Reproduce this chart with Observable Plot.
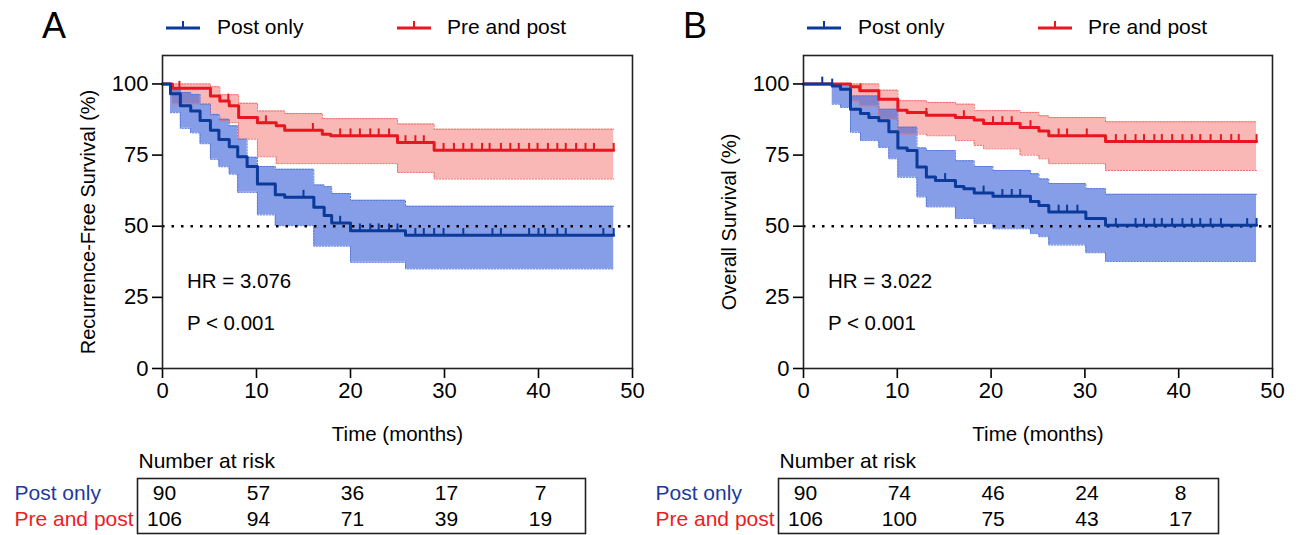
<!DOCTYPE html>
<html>
<head>
<meta charset="utf-8">
<script src="https://cdn.jsdelivr.net/npm/d3@7"></script>
<script src="https://cdn.jsdelivr.net/npm/@observablehq/plot@0.6"></script>
<style>
  html, body { margin: 0; padding: 0; background: #fff; }
  #root { position: relative; width: 1298px; height: 535px; overflow: hidden;
          font-family: "Liberation Sans", Arial, sans-serif; color: #000; }
  .panel { position: absolute; top: 0; width: 649px; height: 535px; }
  .abs { position: absolute; white-space: nowrap; line-height: 24px; }
  .panel svg.plot { position: absolute; left: 0; }
</style>
</head>
<body>
<div id="root"></div>
<script>
// ---------- shared ----------
const xTicks = [0, 10, 20, 30, 40, 50];
const yTicks = [0, 25, 50, 75, 100];
const groups = ["Post only", "Pre and post"];
const riskTimes = [0, 10, 20, 30, 40];

// ---------- Panel A: Recurrence-free survival ----------
const rfsPostT = [0, 0.85, 1.9, 3.0, 4.0, 5.1, 6.0, 7.1, 8.0, 9.0, 10.1, 12.0, 13.0, 16.1, 17.2, 18.0, 20.0, 25.85, 48];
const rfsPostS = [100, 96.6, 92.3, 90.5, 87.2, 83.7, 80.5, 77.9, 74.4, 71.0, 64.8, 61.1, 60.2, 56.7, 53.8, 51.1, 48.4, 46.8, 46.8];
const rfsPostBandT = [0.85, 1.9, 3.0, 4.0, 5.1, 6.0, 7.1, 8.0, 9.0, 10.1, 12.0, 13.0, 16.1, 17.2, 18.0, 20.0, 25.85, 48];
const rfsPostUpper = [98.5, 97.0, 96.3, 92.9, 89.3, 87.6, 85.3, 80.6, 74.2, 71.0, 70.0, 70.0, 64.5, 63.9, 61.5, 59.1, 57.0, 57.0];
const rfsPostLower = [89.9, 84.4, 82.8, 79.0, 73.5, 70.9, 68.3, 61.9, 61.9, 54.0, 50.2, 50.2, 43.0, 43.0, 43.0, 37.3, 35.0, 35.0];
const rfsPostCensor = [15.0, 18.9, 21.0, 22.1, 23.0, 24.1, 25.0, 26.9, 27.8, 28.9, 29.9, 32.0, 35.1, 36.0, 39.0, 40.0, 40.7, 42.0, 42.9, 46.9, 48.0];

const rfsPreT = [0, 1.06, 5.1, 6.1, 7.1, 8.1, 10.1, 12.1, 13.0, 17.0, 17.9, 25.0, 28.9, 48];
const rfsPreS = [100, 98.5, 95.8, 94.0, 92.3, 88.2, 86.4, 85.3, 83.7, 82.3, 81.8, 79.4, 76.7, 76.7];
const rfsPreBandT = [1.06, 5.1, 6.1, 7.1, 8.1, 10.1, 12.1, 13.0, 17.0, 17.9, 25.0, 28.9, 48];
const rfsPreUpper = [100, 99.0, 96.2, 96.2, 93.2, 90.5, 90.5, 89.6, 87.8, 87.8, 85.9, 84.1, 84.1];
const rfsPreLower = [93.0, 89.0, 87.0, 86.4, 80.6, 74.4, 72.0, 72.0, 72.0, 72.0, 68.9, 66.6, 66.6];
const rfsPreCensor = [1.8, 7.0, 11.0, 16.0, 18.9, 20.0, 21.0, 22.1, 23.0, 24.1, 25.85, 26.9, 27.8, 29.9, 31.0, 32.0, 32.9, 34.0, 34.8, 36.0, 37.0, 37.9, 39.0, 39.9, 41.0, 42.0, 42.9, 44.0, 45.0, 45.9, 48.0];

const rfsRiskPost = [90, 57, 36, 17, 7];
const rfsRiskPre = [106, 94, 71, 39, 19];

// ---------- Panel B: Overall survival ----------
const osPostT = [0, 3.06, 3.95, 5.01, 6.08, 6.97, 8.03, 9.1, 10.06, 11.05, 12.1, 13.1, 14.07, 16.2, 17.1, 18.2, 20.2, 24.2, 25.1, 26.15, 30.1, 32.2, 48.3];
const osPostS = [100, 99.3, 98.1, 91.1, 89.6, 88.2, 87.1, 83.2, 77.5, 76.6, 70.8, 67.3, 66.1, 64.0, 63.2, 61.7, 60.5, 58.7, 57.3, 55.0, 52.7, 50.3, 50.3];
const osPostBandT = [3.06, 3.95, 5.01, 6.08, 6.97, 8.03, 9.1, 10.06, 11.05, 12.1, 13.1, 14.07, 16.2, 17.1, 18.2, 20.2, 24.2, 25.1, 26.15, 30.1, 32.2, 48.3];
const osPostUpper = [100, 100, 95.8, 95.8, 95.8, 91.1, 91.1, 84.8, 84.8, 77.5, 76.6, 76.6, 73.0, 73.0, 71.0, 69.6, 68.4, 66.6, 65.0, 63.2, 61.2, 61.2];
const osPostLower = [92.9, 91.7, 83.0, 80.1, 80.1, 77.7, 73.7, 67.2, 67.2, 60.3, 56.8, 56.8, 52.7, 52.7, 50.9, 49.1, 47.4, 46.3, 43.4, 40.7, 37.6, 37.6];
const osPostCensor = [2.0, 3.06, 15.1, 19.2, 21.2, 22.2, 23.1, 27.2, 28.1, 29.2, 33.3, 35.4, 36.3, 37.4, 38.2, 39.3, 40.4, 41.4, 42.3, 43.4, 44.5, 47.3, 48.3];

const osPreT = [0, 5.01, 6.0, 8.03, 10.06, 11.05, 13.1, 16.2, 18.2, 19.2, 23.1, 25.1, 26.15, 32.2, 48.3];
const osPreS = [100, 99.0, 97.6, 94.6, 90.8, 90.0, 89.0, 88.2, 87.3, 86.1, 84.7, 83.5, 81.8, 79.8, 79.8];
const osPreBandT = [5.01, 6.0, 8.03, 10.06, 11.05, 13.1, 16.2, 18.2, 19.2, 23.1, 25.1, 26.15, 32.2, 48.3];
const osPreUpper = [100, 100, 97.8, 94.1, 94.1, 93.5, 92.9, 90.6, 90.6, 90.0, 88.8, 88.2, 86.7, 86.7];
const osPreLower = [94.0, 92.3, 87.6, 82.4, 82.4, 81.8, 80.1, 78.4, 77.2, 75.0, 73.7, 72.0, 69.6, 69.6];
const osPreCensor = [6.08, 13.1, 17.1, 20.2, 21.2, 22.2, 24.2, 27.2, 28.1, 30.2, 33.3, 34.3, 35.4, 36.3, 37.4, 38.2, 39.3, 40.4, 41.4, 42.3, 43.4, 44.5, 45.6, 46.4, 48.3];

const osRiskPost = [90, 74, 46, 24, 8];
const osRiskPre = [106, 100, 75, 43, 17];

// ---------- styles ----------
const BLUE = "#0b3a9a";
const RED = "#e8161e";
const BLUE_FILL = "#3a63d8";
const RED_FILL = "#f47c78";
const BLUE_LABEL = "#1d3a9a";
const RED_LABEL = "#ee1c25";
const FONT = "'Liberation Sans', Arial, sans-serif";

// ---------- helpers ----------
const series = (T, S) => T.map((t, i) => ({t, s: S[i]}));
const band = (T, U, L) => T.map((t, i) => ({t, u: U[i], l: L[i]}));
function stepAt(T, S, t) {
  let v = S[0];
  for (let i = 0; i < T.length; i++) if (T[i] <= t + 1e-9) v = S[i];
  return v;
}
const cens = (C, T, S) => C.map(t => ({t, s: stepAt(T, S, t)}));

function makePanel(cfg) {
  const panel = document.createElement("div");
  panel.className = "panel";
  panel.style.left = cfg.left + "px";
  document.getElementById("root").appendChild(panel);

  const W = 649;
  const fl = cfg.marginLeft;
  const fr = W - cfg.marginRight;

  const post = series(cfg.postT, cfg.postS);
  const pre = series(cfg.preT, cfg.preS);
  const postB = band(cfg.postBandT, cfg.postUpper, cfg.postLower);
  const preB = band(cfg.preBandT, cfg.preUpper, cfg.preLower);
  const postC = cens(cfg.postCensor, cfg.postT, cfg.postS);
  const preC = cens(cfg.preCensor, cfg.preT, cfg.preS);

  const main = Plot.plot({
    width: W,
    height: 445,
    marginLeft: cfg.marginLeft,
    marginRight: cfg.marginRight,
    marginTop: 55,
    marginBottom: 77,
    style: {fontFamily: FONT, fontSize: "20px", color: "#000", background: "transparent", overflow: "visible"},
    x: {domain: [0, 50]},
    y: {domain: [0, 110]},
    marks: [
      Plot.areaY(preB, {x: "t", y1: "l", y2: "u", curve: "step-after", fill: RED_FILL, fillOpacity: 0.55}),
      Plot.areaY(postB, {x: "t", y1: "l", y2: "u", curve: "step-after", fill: BLUE_FILL, fillOpacity: 0.62}),
      Plot.line(preB, {x: "t", y: "u", curve: "step-after", stroke: "#ef6b66", strokeWidth: 1, strokeDasharray: "1.5,1.5"}),
      Plot.line(preB, {x: "t", y: "l", curve: "step-after", stroke: "#ef6b66", strokeWidth: 1, strokeDasharray: "1.5,1.5"}),
      Plot.line(postB, {x: "t", y: "u", curve: "step-after", stroke: "#5478dc", strokeWidth: 1, strokeDasharray: "1.5,1.5"}),
      Plot.line(postB, {x: "t", y: "l", curve: "step-after", stroke: "#5478dc", strokeWidth: 1, strokeDasharray: "1.5,1.5"}),
      Plot.ruleY([50], {x1: 0, x2: 50, stroke: "#000", strokeWidth: 2.5, strokeDasharray: "2.5,7"}),
      Plot.line(pre, {x: "t", y: "s", curve: "step-after", stroke: RED, strokeWidth: 3}),
      Plot.ruleX(preC, {x: "t", y1: "s", y2: d => d.s + 2.4, stroke: RED, strokeWidth: 2}),
      Plot.line(post, {x: "t", y: "s", curve: "step-after", stroke: BLUE, strokeWidth: 3}),
      Plot.ruleX(postC, {x: "t", y1: "s", y2: d => d.s + 2.4, stroke: BLUE, strokeWidth: 2}),
      Plot.text([cfg.hr], {x: 2.6, y: 30.5, textAnchor: "start", lineAnchor: "middle", fontSize: 20.5}),
      Plot.text([cfg.p], {x: 2.6, y: 15.8, textAnchor: "start", lineAnchor: "middle", fontSize: 20.5}),
      Plot.axisX({ticks: xTicks, tickSize: 10, tickPadding: 4, fontSize: 22, label: null, strokeWidth: 1.6}),
      Plot.axisY({ticks: yTicks, tickSize: 10, tickPadding: 4, fontSize: 22, label: null, strokeWidth: 1.6}),
      Plot.frame({stroke: "#222", strokeWidth: 1.6}),
      Plot.text(["Time (months)"], {frameAnchor: "bottom", dy: 58, textAnchor: "middle", lineAnchor: "top", fontSize: 20.5}),
      Plot.text([cfg.yLabel], {frameAnchor: "left", rotate: -90, dx: -74, dy: 10, textAnchor: "middle", lineAnchor: "middle", fontSize: 20})
    ]
  });
  main.classList.add("plot");
  main.style.top = "0px";
  panel.appendChild(main);

  // Number-at-risk table
  const riskRows = [];
  riskTimes.forEach((t, i) => {
    riskRows.push({t, group: groups[0], n: cfg.riskPost[i]});
    riskRows.push({t, group: groups[1], n: cfg.riskPre[i]});
  });
  const risk = Plot.plot({
    width: W,
    height: 90,
    marginLeft: cfg.boxLeft,
    marginRight: W - cfg.boxRight,
    marginTop: 33,
    marginBottom: 2,
    style: {fontFamily: FONT, fontSize: "21px", color: "#000", background: "transparent", overflow: "visible"},
    x: {domain: [0, 50], range: [fl, fr], axis: null},
    y: {type: "band", domain: groups, range: [33, 88], axis: null},
    marks: [
      Plot.frame({stroke: "#222", strokeWidth: 1.6}),
      Plot.text(riskRows, {x: "t", y: "group", text: "n", dx: 2, fontSize: 21, fill: "#000"}),
      Plot.text(groups, {y: d => d, frameAnchor: "left", dx: -123, textAnchor: "start",
                         fill: d => d === groups[0] ? BLUE_LABEL : RED_LABEL, fontSize: 21}),
      Plot.text(["Number at risk"], {frameAnchor: "top-left", dx: 1, dy: -17, textAnchor: "start", lineAnchor: "middle", fontSize: 21})
    ]
  });
  risk.classList.add("plot");
  risk.style.top = "445px";
  panel.appendChild(risk);

  // Legend & panel letter
  const addText = (txt, x, y, size) => {
    const d = document.createElement("div");
    d.className = "abs";
    d.textContent = txt;
    d.style.left = x + "px";
    d.style.top = (y - 12) + "px";
    d.style.fontSize = size + "px";
    if (size > 24) { d.style.lineHeight = size + "px"; d.style.top = (y - size / 2) + "px"; }
    panel.appendChild(d);
  };
  const addSwatch = (x, y, color) => {
    const ns = "http://www.w3.org/2000/svg";
    const s = document.createElementNS(ns, "svg");
    s.setAttribute("width", 34); s.setAttribute("height", 14);
    s.style.position = "absolute"; s.style.left = x + "px"; s.style.top = (y - 10) + "px";
    const l = document.createElementNS(ns, "line");
    l.setAttribute("x1", 0); l.setAttribute("x2", 34); l.setAttribute("y1", 10); l.setAttribute("y2", 10);
    l.setAttribute("stroke", color); l.setAttribute("stroke-width", 3);
    const t = document.createElementNS(ns, "line");
    t.setAttribute("x1", 17); t.setAttribute("x2", 17); t.setAttribute("y1", 10); t.setAttribute("y2", 3);
    t.setAttribute("stroke", color); t.setAttribute("stroke-width", 2);
    s.appendChild(l); s.appendChild(t);
    panel.appendChild(s);
  };
  addText(cfg.letter, fl - 120, 26, 36);
  addSwatch(fl + 4, 28, BLUE);
  addText(groups[0], fl + 55, 27, 21);
  addSwatch(fl + 235, 28, RED);
  addText(groups[1], fl + 285, 27, 21);
}

makePanel({
  left: 0, letter: "A", marginLeft: 162, marginRight: 17, boxLeft: 137, boxRight: 585,
  yLabel: "Recurrence-Free Survival (%)", hr: "HR = 3.076", p: "P < 0.001",
  postT: rfsPostT, postS: rfsPostS, postBandT: rfsPostBandT, postUpper: rfsPostUpper, postLower: rfsPostLower, postCensor: rfsPostCensor,
  preT: rfsPreT, preS: rfsPreS, preBandT: rfsPreBandT, preUpper: rfsPreUpper, preLower: rfsPreLower, preCensor: rfsPreCensor,
  riskPost: rfsRiskPost, riskPre: rfsRiskPre
});
makePanel({
  left: 649, letter: "B", marginLeft: 154, marginRight: 26, boxLeft: 129, boxRight: 569,
  yLabel: "Overall Survival (%)", hr: "HR = 3.022", p: "P < 0.001",
  postT: osPostT, postS: osPostS, postBandT: osPostBandT, postUpper: osPostUpper, postLower: osPostLower, postCensor: osPostCensor,
  preT: osPreT, preS: osPreS, preBandT: osPreBandT, preUpper: osPreUpper, preLower: osPreLower, preCensor: osPreCensor,
  riskPost: osRiskPost, riskPre: osRiskPre
});
</script>
</body>
</html>
